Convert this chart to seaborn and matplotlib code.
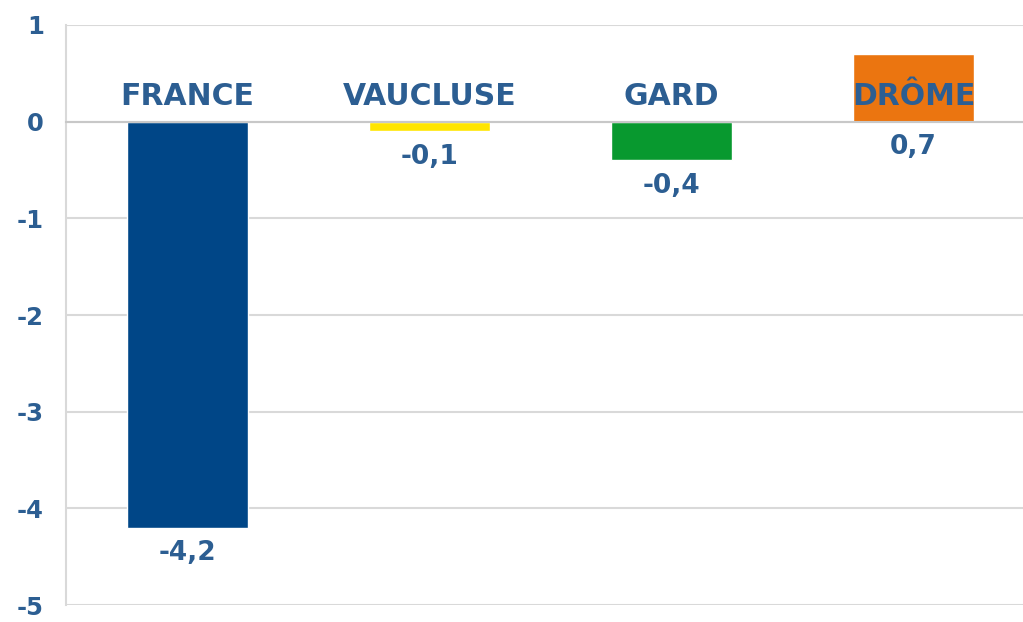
import matplotlib
matplotlib.use("Agg")
import matplotlib.pyplot as plt
import seaborn as sns
import pandas as pd

# data
zones = ["FRANCE", "VAUCLUSE", "GARD", "DRÔME"]
values = [-4.2, -0.1, -0.4, 0.7]
value_labels = ["-4,2", "-0,1", "-0,4", "0,7"]
bar_colors = ["#004687", "#FFE500", "#08992F", "#EB7510"]
y_ticks = [1, 0, -1, -2, -3, -4, -5]

TEXT = "#2C5E92"
GRID = "#D9D9D9"

sns.set_theme(style="white")
plt.rcParams["font.family"] = ["DejaVu Sans"]

df = pd.DataFrame({"zone": zones, "value": values})

fig = plt.figure(figsize=(10.23, 6.22), dpi=100)
ax = fig.add_axes([0.0645, 0.027, 0.947, 0.933])

sns.barplot(data=df, x="zone", y="value", hue="zone", palette=bar_colors,
            width=0.5, legend=False, saturation=1, ax=ax)

ax.set_xlim(-0.5, 3.5)
ax.set_ylim(-5, 1)
ax.set_yticks(y_ticks)
ax.set_yticklabels([str(t) for t in y_ticks], fontsize=17.5, fontweight="bold", color=TEXT)
ax.tick_params(axis="y", length=11, color=GRID, width=1.5, pad=5)

# horizontal gridlines
ax.grid(axis="y", color=GRID, linewidth=1.5)
ax.set_axisbelow(True)

# x axis sits on the zero line, ticks between categories
ax.spines["bottom"].set_position(("data", 0))
ax.spines["bottom"].set_color("#C8C8C8")
ax.spines["bottom"].set_linewidth(1.5)
ax.set_xticks([0.5, 1.5, 2.5])
ax.set_xticklabels([])
ax.tick_params(axis="x", length=9, color="#C8C8C8", width=1.5, direction="out")
ax.spines["left"].set_color(GRID)
ax.spines["left"].set_linewidth(1.5)
ax.spines["top"].set_visible(False)
ax.spines["right"].set_visible(False)
ax.set_xlabel("")
ax.set_ylabel("")

# category names above the zero line
for i, name in enumerate(zones):
    ax.text(i, 0.26, name, ha="center", va="center", fontsize=21.5,
            fontweight="bold", color=TEXT, zorder=5)

# value labels under each bar (under zero line for positive values)
for i, (v, lab) in enumerate(zip(values, value_labels)):
    anchor = min(v, 0)
    ax.annotate(lab, xy=(i, anchor), xytext=(0, -9), textcoords="offset points",
                ha="center", va="top", fontsize=19, fontweight="bold", color=TEXT)

fig.savefig("out.png", dpi=100)
